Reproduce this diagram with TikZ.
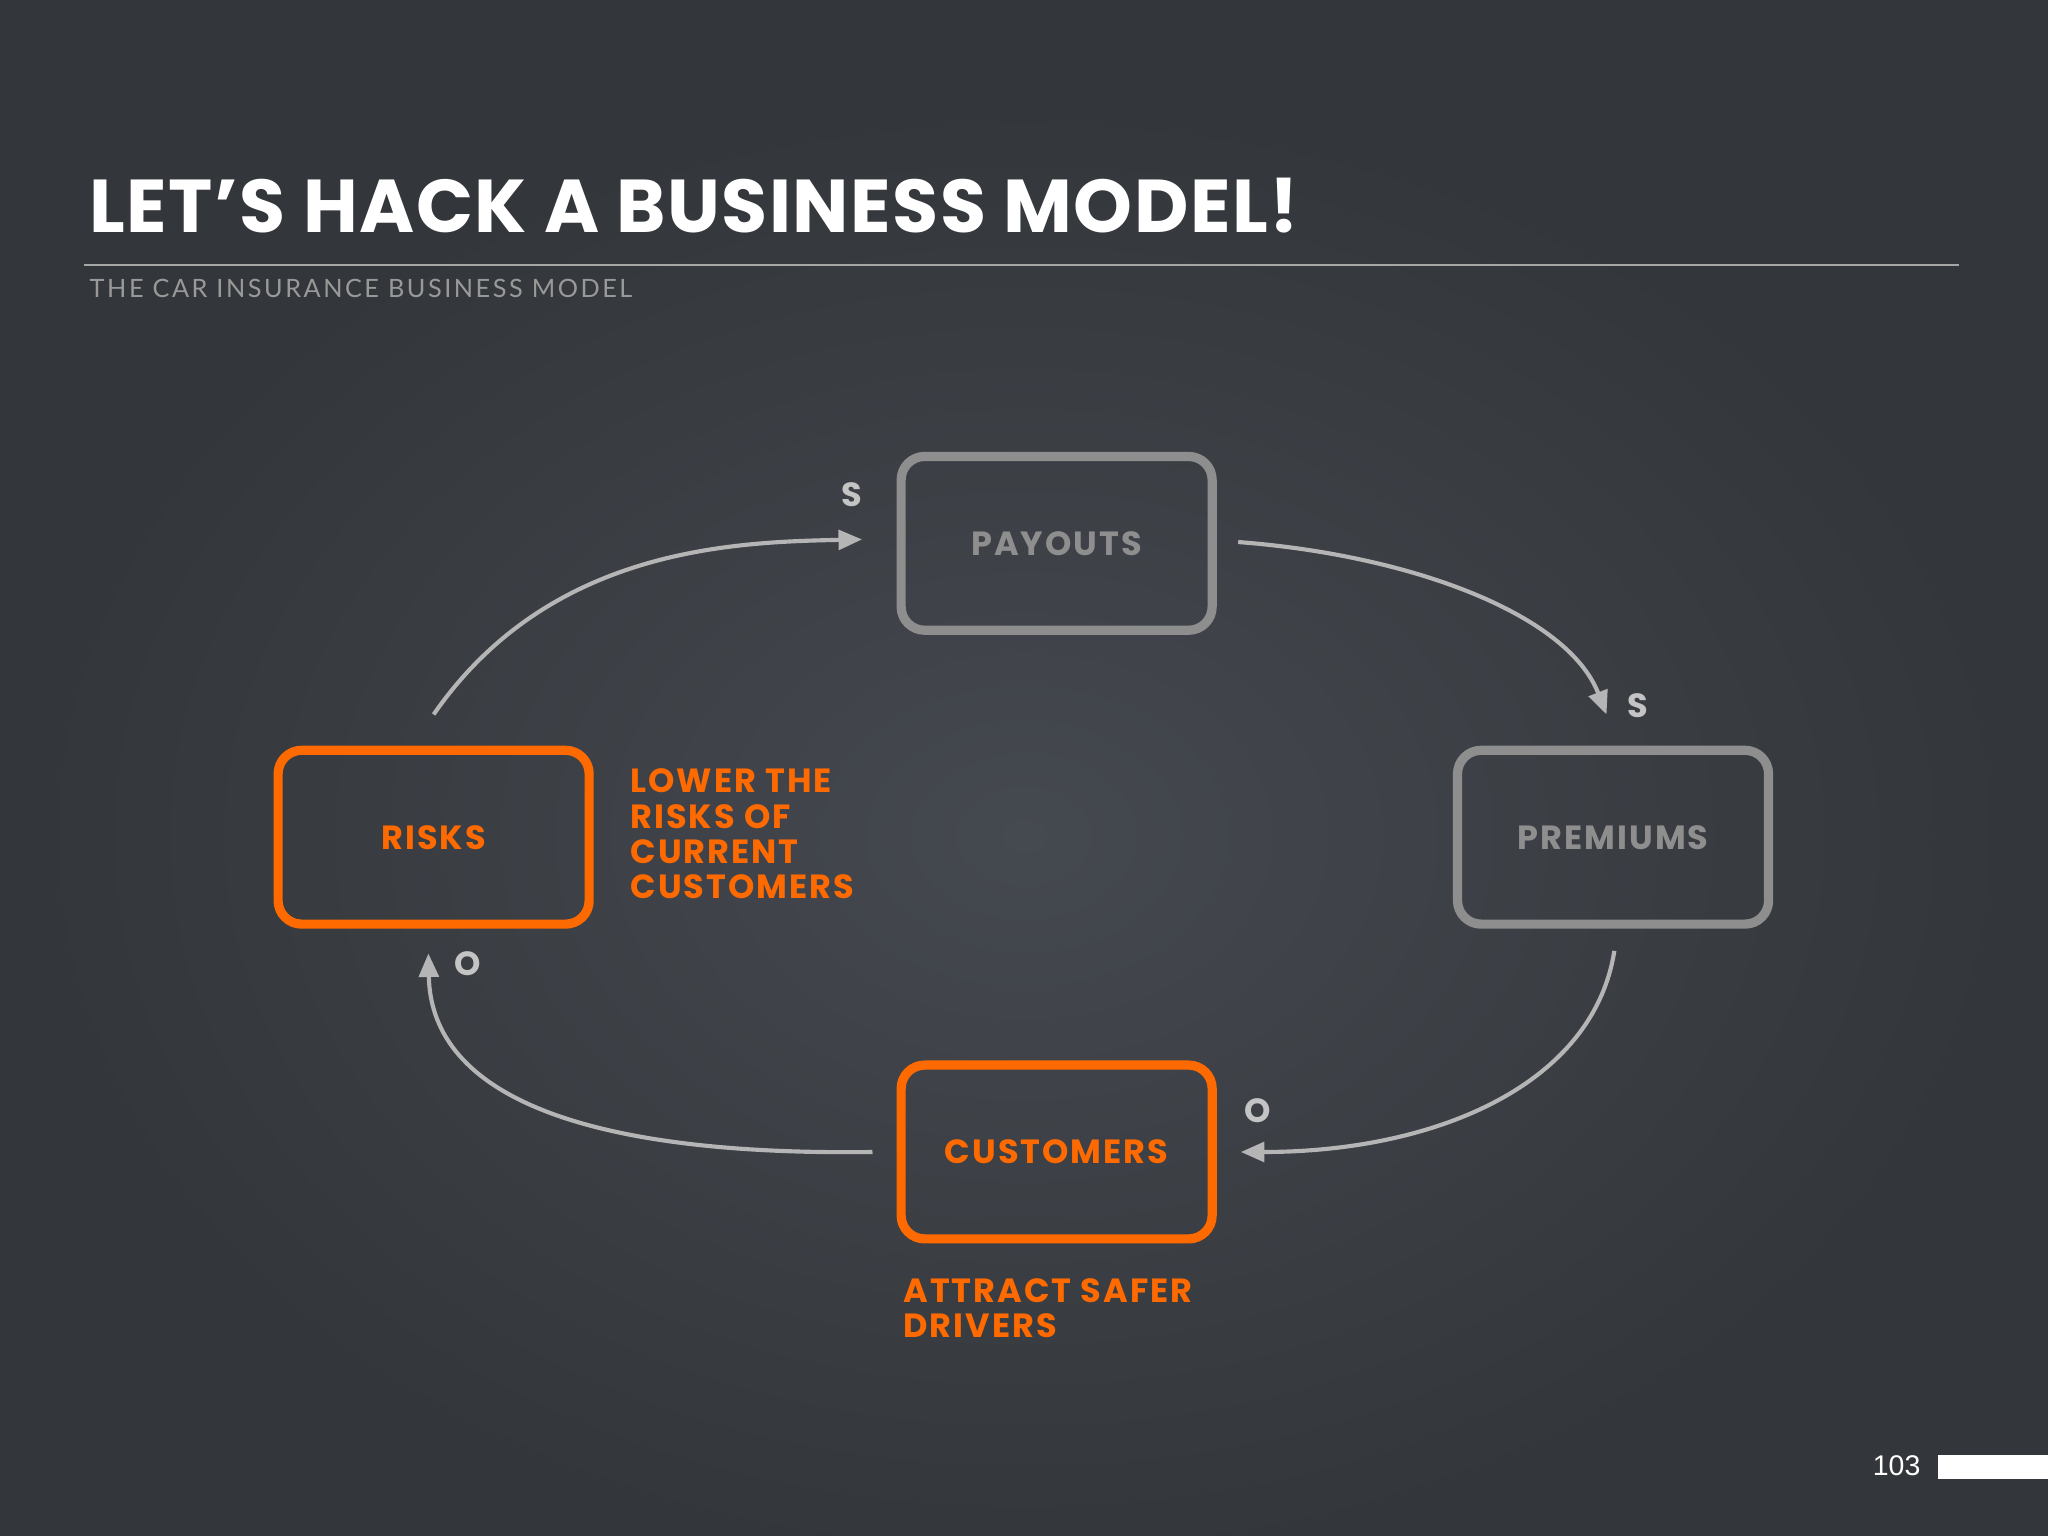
\documentclass[tikz,border=0pt]{standalone}
\usepackage{fontspec}
\usetikzlibrary{arrows.meta}
\newfontfamily\pop[LetterSpace=6]{Poppins}
\newfontfamily\popt[LetterSpace=2]{Poppins}
\newfontfamily\sub[LetterSpace=10]{Lato}
\definecolor{bg}{HTML}{33363A}
\definecolor{bgc}{HTML}{454950}
\definecolor{org}{HTML}{FF6A00}
\definecolor{gbox}{HTML}{8E8E8E}
\definecolor{arr}{HTML}{B5B5B5}
\tikzset{
 boxg/.style={draw=gbox,line width=2pt,rounded corners=0.18cm,minimum width=2.38cm,minimum height=1.33cm,text=gbox,font=\pop\bfseries\fontsize{7.3}{8}\selectfont},
 boxo/.style={boxg,draw=org,text=org},
 con/.style={draw=arr,line width=0.9pt,-{Triangle[length=0.18cm,width=0.15cm]}},
 lab/.style={text=arr!80,font=\pop\bfseries\fontsize{7.3}{8}\selectfont},
 otext/.style={text=org,align=left,anchor=north west,inner sep=0pt,font=\pop\bfseries\fontsize{7.3}{7.7}\selectfont}
}
\begin{document}
\begin{tikzpicture}[x=0.01cm,y=-0.01cm]
\useasboundingbox (0,0) rectangle (1568,1176);
\begin{scope}
\clip (0,0) rectangle (1568,1176);
\fill[bg] (0,0) rectangle (1568,1176);
\shade[inner color=bgc,outer color=bg] (784,640) ellipse (760 and 560);
\end{scope}
\node[anchor=base west,inner sep=0pt,text=white,font=\popt\bfseries\fontsize{16.3}{18}\selectfont] (title) at (68,178) {LET’S HACK A BUSINESS MODEL!};
\draw[gray!70,line width=0.3pt] (64,203) -- (1500,203);
\node[anchor=base west,inner sep=0pt,text=gray!80,font=\sub\fontsize{5.5}{6}\selectfont] (sub) at (68,228) {THE CAR INSURANCE BUSINESS MODEL};
\node[boxg] (pay) at (809,416) {PAYOUTS};
\node[boxo] (risk) at (332,641) {RISKS};
\node[boxg] (prem) at (1235,641) {PREMIUMS};
\node[boxo] (cust) at (809,882) {CUSTOMERS};
\coordinate (a1) at (332,547); \coordinate (a2) at (660,413);
\coordinate (b1) at (948,415); \coordinate (b2) at (1230,547);
\coordinate (c1) at (1236,728); \coordinate (c2) at (950,882);
\coordinate (d1) at (668,882); \coordinate (d2) at (328,730);
\draw[con] (a1) .. controls (420,420) and (560,415) .. (a2);
\draw[con] (b1) .. controls (1080,425) and (1200,470) .. (b2);
\draw[con] (c1) .. controls (1220,830) and (1100,882) .. (c2);
\draw[con] (d1) .. controls (450,885) and (330,840) .. (d2);
\node[lab] (s1) at (652,379) {S};
\node[lab] (s2) at (1254,540) {S};
\node[lab] (o1) at (963,850) {O};
\node[lab] (o2) at (358,738) {O};
\node[otext] (t1) at (482,588) {LOWER THE\\RISKS OF\\CURRENT\\CUSTOMERS};
\node[otext] (t2) at (691,978) {ATTRACT SAFER\\DRIVERS};
\node[anchor=base east,inner sep=0pt,text=white,font=\fontspec{Liberation Sans}\fontsize{6.2}{7}\selectfont] (pg) at (1471,1130) {103};
\fill[white] (1484,1114) rectangle (1568,1132);
\end{tikzpicture}
\end{document}
